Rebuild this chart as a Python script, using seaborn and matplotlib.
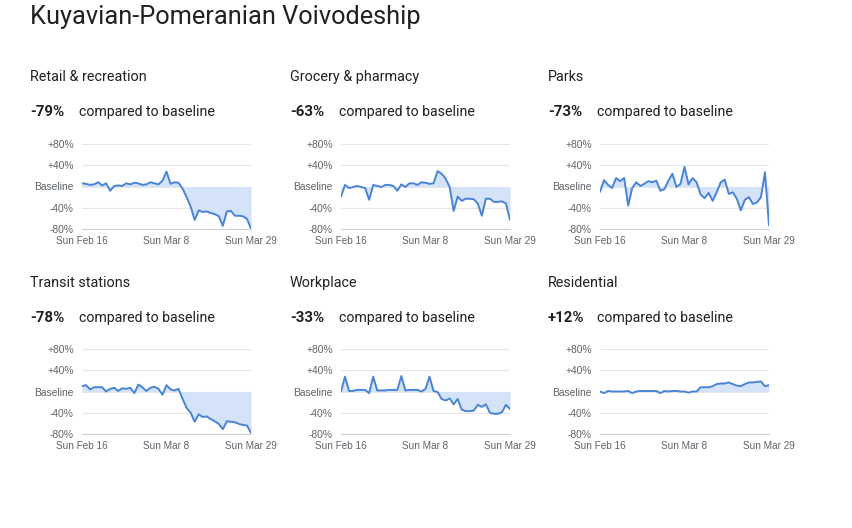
"""Google-style mobility report panels for Kuyavian-Pomeranian Voivodeship."""

import matplotlib

matplotlib.use("Agg")
import matplotlib.pyplot as plt
import numpy as np
import pandas as pd
import seaborn as sns

region = "Kuyavian-Pomeranian Voivodeship"
dates = pd.date_range("2020-02-16", "2020-03-29", freq="D")

categories = [
    "Retail & recreation",
    "Grocery & pharmacy",
    "Parks",
    "Transit stations",
    "Workplace",
    "Residential",
]
headlines = ["-79%", "-63%", "-73%", "-78%", "-33%", "+12%"]

retail = [6, 5, 3, 4, 8, 2, 6, -8, 1, 2, 1, 6, 4, 7, 6, 3, 4, 8, 6, 4, 11, 28,
          5, 8, 7, -4, -20, -38, -63, -45, -48, -47, -50, -52, -56, -74, -47,
          -46, -55, -55, -56, -61, -79]
grocery = [-19, 3, -3, -1, 1, -1, -3, -25, 3, 1, -1, 3, 3, 1, -8, 4, -1, 6, 6,
           3, 8, 7, 5, 6, 29, 24, 15, -1, -46, -19, -27, -23, -23, -24, -32,
           -55, -23, -23, -29, -29, -28, -32, -63]
parks = [-10, 12, 3, -3, 16, 10, 16, -36, -3, 8, 1, 5, 10, 8, 11, -8, -5, 11,
         24, -1, 5, 37, 4, 16, 8, -15, -22, -12, -27, -11, 8, 13, -14, -11,
         -23, -45, -25, -20, -33, -30, -20, 27, -73]
transit = [10, 12, 4, 8, 8, 8, 0, 5, 7, 1, 6, 5, 7, -3, 13, 8, 1, 7, 9, 5, -6,
           12, 4, 2, 5, -14, -31, -40, -57, -43, -48, -47, -52, -56, -61, -71,
           -56, -57, -58, -61, -63, -64, -78]
workplace = [0, 28, 1, 1, 3, 3, 3, -3, 28, 2, 2, 2, 3, 3, 3, 29, 2, 3, 3, 3, 0,
             5, 28, 1, -1, -14, -17, -13, -24, -14, -34, -37, -37, -36, -25,
             -29, -24, -40, -42, -42, -39, -25, -33]
residential = [0, -3, 1, 0, 0, 0, 0, 1, -3, 0, 1, 1, 1, 1, 1, -3, 1, 0, 1, 1,
               0, 0, -2, 0, 0, 8, 8, 8, 10, 14, 15, 15, 17, 14, 11, 10, 14, 17,
               17, 18, 19, 10, 12]
series = [retail, grocery, parks, transit, workplace, residential]

y_ticks = [-80, -40, 0, 40, 80]
y_labels = ["-80%", "-40%", "Baseline", "+40%", "+80%"]
x_label_dates = ["2020-02-16", "2020-03-08", "2020-03-29"]
x_labels = ["Sun Feb 16", "Sun Mar 8", "Sun Mar 29"]

LINE = "#4a84d6"
FILL = "#d5e3f8"
GRAY = "#5f6368"

sns.set_style("white")
plt.rcParams["font.family"] = ["Liberation Sans", "DejaVu Sans"]

W, H = 852, 528
fig = plt.figure(figsize=(W / 100, H / 100), dpi=100)

fig.text(30 / W, 1 - 17 / H, region, fontsize=18.3, color="#202124",
         family="Roboto", va="center", ha="left")

col_text_x = [30, 290, 548]
col_ax_x = [82, 341, 600]
row_sub_y = [77, 283]
row_head_y = [112, 318]
row_ax_top = [144, 349]
ax_w, ax_h = 169, 85

for i, (name, head, vals) in enumerate(zip(categories, headlines, series)):
    r, c = divmod(i, 3)
    fig.text(col_text_x[c] / W, 1 - row_sub_y[r] / H, name, fontsize=10.4,
             color="#202124", family="Roboto", va="center")
    fig.text(col_text_x[c] / W, 1 - row_head_y[r] / H, head, fontsize=10.8,
             color="#202124", family="Roboto", weight="bold", va="center")
    fig.text((col_text_x[c] + 49) / W, 1 - row_head_y[r] / H,
             "compared to baseline", fontsize=10.2, color="#202124",
             family="Roboto", va="center")

    ax = fig.add_axes([col_ax_x[c] / W, 1 - (row_ax_top[r] + ax_h) / H,
                       ax_w / W, ax_h / H])
    df = pd.DataFrame({"date": dates, "change": vals})
    ax.fill_between(df["date"], df["change"], 0, color=FILL, lw=0)
    sns.lineplot(data=df, x="date", y="change", ax=ax, color=LINE, lw=1.4)

    ax.set_xlim(dates[0], dates[-1])
    ax.set_ylim(-80, 80)
    ax.set_yticks(y_ticks)
    ax.set_yticklabels(y_labels)
    ax.set_xticks(dates[::7])
    ax.set_xticklabels([x_labels[x_label_dates.index(str(d.date()))]
                        if str(d.date()) in x_label_dates else ""
                        for d in dates[::7]])
    ax.set_xlabel("")
    ax.set_ylabel("")
    ax.grid(axis="y", color="#e6e6e6", lw=0.8)
    ax.set_axisbelow(True)
    for side in ["top", "right", "left"]:
        ax.spines[side].set_visible(False)
    ax.spines["bottom"].set_color("#d0d0d0")
    ax.spines["bottom"].set_linewidth(0.8)
    ax.tick_params(axis="y", length=0, pad=6, labelsize=7.4, labelcolor=GRAY)
    ax.tick_params(axis="x", length=4, width=0.7, color="#cfcfcf", pad=1,
                   labelsize=7.2, labelcolor=GRAY, direction="out")
    ax.set_facecolor("none")

fig.savefig("out.png", dpi=100)
